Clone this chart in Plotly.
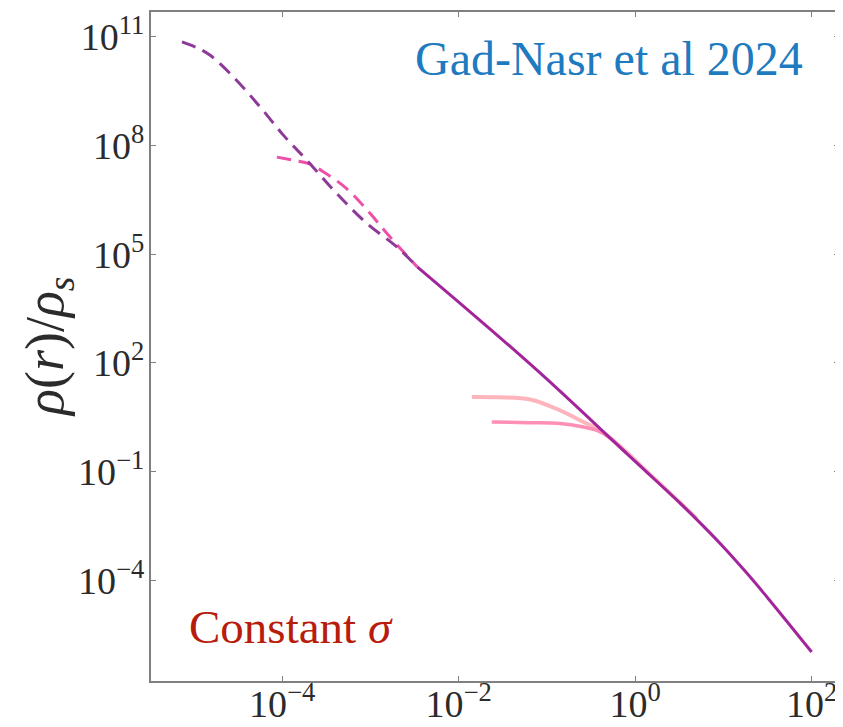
import numpy as np
import plotly.graph_objects as go

# ---- data (log10 values) ----
purple_dash_logr = [-5.136, -4.948, -4.816, -4.552, -4.249, -3.985, -3.72, -3.38, -3.04, -2.70, -2.47]
purple_dash_logrho = [10.86, 10.68, 10.49, 9.89, 9.06, 8.28, 7.59, 6.67, 5.85, 5.20, 4.65]

pink_dash_logr = [-4.06, -3.85, -3.70, -3.53, -3.27, -3.02, -2.78, -2.47]
pink_dash_logrho = [7.68, 7.58, 7.50, 7.27, 6.81, 6.17, 5.48, 4.65]

main_logr = [-2.47, -2.0, -1.5, -1.0, -0.5, 0.0, 0.5, 0.75, 1.0, 1.25, 1.5, 2.0]
main_logrho = [4.65, 3.68, 2.63, 1.55, 0.42, -0.72, -1.85, -2.45, -3.08, -3.76, -4.48, -5.98]

light_logr = [-1.851, -1.55, -1.191, -0.851, -0.587, -0.435, -0.21, 0.2, 0.70]
light_logrho = [1.06, 1.05, 0.99, 0.69, 0.37, 0.19, -0.22, -1.15, -2.30]

pink_logr = [-1.625, -1.2, -0.851, -0.587, -0.435, -0.30, -0.10]
pink_logrho = [0.37, 0.35, 0.325, 0.23, 0.14, -0.04, -0.49]

x_tickvals = [1e-4, 1e-2, 1e0, 1e2]
x_ticktext = ["10<sup>−4</sup>", "10<sup>−2</sup>", "10<sup>0</sup>", "10<sup>2</sup>"]
y_tickvals = [1e-4, 1e-1, 1e2, 1e5, 1e8, 1e11]
y_ticktext = ["10<sup>−4</sup>", "10<sup>−1</sup>", "10<sup>2</sup>", "10<sup>5</sup>",
              "10<sup>8</sup>", "10<sup>11</sup>"]

def p(v):
    return np.power(10.0, np.array(v))

fig = go.Figure()
fig.add_trace(go.Scatter(x=p(light_logr), y=p(light_logrho), mode="lines",
                         line=dict(color="#FFB5BC", width=4), line_shape="spline"))
fig.add_trace(go.Scatter(x=p(pink_logr), y=p(pink_logrho), mode="lines",
                         line=dict(color="#FF8FB6", width=3.5), line_shape="spline"))
fig.add_trace(go.Scatter(x=p(main_logr), y=p(main_logrho), mode="lines",
                         line=dict(color="#A3259C", width=3), line_shape="spline"))
fig.add_trace(go.Scatter(x=p(pink_dash_logr), y=p(pink_dash_logrho), mode="lines",
                         line=dict(color="#EE4FA8", width=3, dash="14px,8px"), line_shape="spline"))
fig.add_trace(go.Scatter(x=p(purple_dash_logr), y=p(purple_dash_logrho), mode="lines",
                         line=dict(color="#8E3A98", width=3, dash="14px,8px"), line_shape="spline"))

axis_common = dict(type="log", showline=True, linecolor="#808080", linewidth=2,
                   mirror="ticks", ticks="inside", ticklen=5, tickcolor="#808080",
                   showgrid=False, zeroline=False, automargin=False,
                   tickfont=dict(family="Liberation Serif", size=38, color="#2b2b2b"))

fig.update_xaxes(range=[-5.487, 2.31], tickvals=x_tickvals, ticktext=x_ticktext,
                 ticklabelstandoff=-12, **axis_common)
fig.update_yaxes(range=[-6.78, 11.685], tickvals=y_tickvals, ticktext=y_ticktext,
                 ticklabelstandoff=-3, **axis_common)

fig.add_annotation(text="Gad-Nasr et al 2024", xref="paper", yref="paper",
                   x=0.666, y=0.93, xanchor="center", yanchor="middle", showarrow=False,
                   font=dict(family="Liberation Serif", size=48, color="#1F7BBF"))
fig.add_annotation(text="Constant <i>σ</i>", xref="paper", yref="paper",
                   x=0.204, y=0.08, xanchor="center", yanchor="middle", showarrow=False,
                   font=dict(family="Liberation Serif", size=47, color="#B71C0C"))
fig.add_annotation(text="<i>ρ</i>(<i>r</i>)/<i>ρ<sub>s</sub></i>", xref="paper", yref="paper",
                   x=-0.149, y=0.5, xanchor="center", yanchor="middle", showarrow=False,
                   textangle=-90,
                   font=dict(family="Liberation Serif", size=54, color="#2b2b2b"))

# page body has an 8px margin; size the figure so the plot lands where the reference has it
fig.update_layout(width=835, height=719, showlegend=False,
                  margin=dict(l=143, r=4, t=4, b=46),
                  paper_bgcolor="white", plot_bgcolor="white")

fig.write_html("out.html")
